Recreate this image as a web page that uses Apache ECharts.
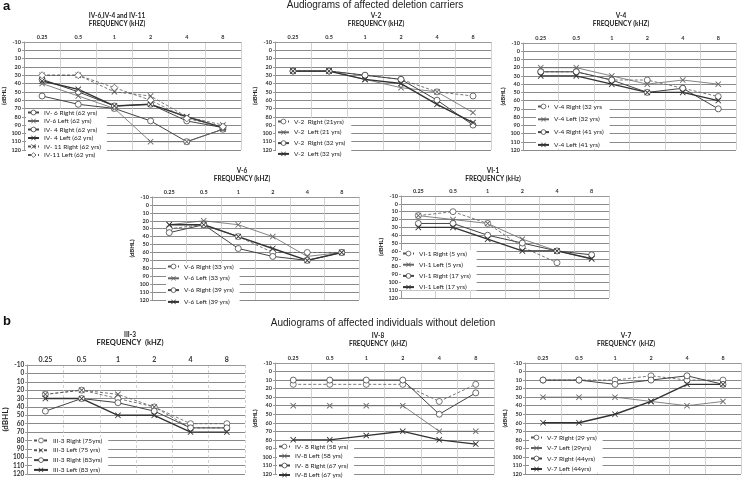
<!DOCTYPE html>
<html>
<head>
<meta charset="utf-8">
<title>Audiograms</title>
<script src="https://cdn.jsdelivr.net/npm/echarts@6/dist/echarts.min.js"></script>
<style>
    html, body { margin: 0; padding: 0; background: #fff; }
    #chart { width: 743px; height: 480px; }
</style>
</head>
<body>
<div id="chart"></div>
<script>
const freqLabels = ['0.25', '0.5', '1', '2', '4', '8'];

// a: deletion carriers (dB HL per frequency)
const iv6Right = [55, 65, 70, 85, 110, 95];
const iv6Left = [40, 55, 70, 110, 110, 95];
const iv4Right = [35, 50, 67, 65, 85, 93];
const iv4Left = [37, 47, 67, 65, 80, 93];
const iv11Right = [30, 30, 50, 55, 80, 90];
const iv11Left = [30, 30, 45, 60, 82, 92];

const v2Right21 = [25, 25, 30, 35, 50, 55];
const v2Left21 = [25, 25, 35, 45, 50, 75];
const v2Right32 = [25, 25, 30, 35, 60, 90];
const v2Left32 = [25, 25, 35, 40, 65, 87];

const v4Right32 = [25, 25, 35, 35, 45, 55];
const v4Left32 = [20, 20, 30, 40, 35, 40];
const v4Right41 = [25, 25, 35, 50, 45, 70];
const v4Left41 = [30, 30, 40, 50, 50, 60];

const v6Right33 = [30, 25, 40, 60, 60, 60];
const v6Left33 = [25, 20, 25, 40, 65, 60];
const v6Right39 = [35, 25, 55, 65, 70, 60];
const v6Left39 = [25, 25, 40, 55, 70, 60];

const vi1Right5 = [15, 10, 25, 55, 75, null];
const vi1Left5 = [15, 20, 25, 45, 60, 70];
const vi1Right17 = [25, 25, 40, 50, 60, 65];
const vi1Left17 = [30, 30, 45, 60, 60, 70];

// b: individuals without deletion
const iii3Right75 = [25, 20, 30, 40, 60, 60];
const iii3Left75 = [25, 20, 25, 40, 65, 65];
const iii3Right83 = [45, 30, 35, 45, 65, 65];
const iii3Left83 = [30, 30, 50, 50, 70, 70];

const iv8Right58 = [15, 15, 15, 15, 35, 15];
const iv8Left58 = [40, 40, 40, 40, 70, 70];
const iv8Right67 = [10, 10, 10, 10, 50, 25];
const iv8Left67 = [80, 80, 75, 70, 80, 85];

const v7Right29 = [10, 10, 10, 5, 10, 10];
const v7Left29 = [30, 30, 30, 35, 40, 35];
const v7Right44 = [10, 10, 15, 10, 5, 15];
const v7Left44 = [60, 60, 50, 35, 15, 15];

const X_PATH = 'path://M1,0L5,4L9,0L10,1L6,5L10,9L9,10L5,6L1,10L0,9L4,5L0,1Z';
const FONT = 'Lato, "Liberation Sans", sans-serif';

// open markers are drawn as white shapes with a thin outline
const styles = {
    circleThin: { symbol: 'circle', size: 6, type: [3, 2], width: 0.8, color: '#555', open: true },
    crossThin: { symbol: X_PATH, size: 6, type: [3, 2], width: 0.8, color: '#555' },
    diamondThin: { symbol: 'diamond', size: 7, type: [3, 2], width: 0.8, color: '#555', open: true },
    circle: { symbol: 'circle', size: 6, type: 'solid', width: 1, color: '#444', open: true },
    cross: { symbol: X_PATH, size: 6, type: 'solid', width: 1.4, color: '#333' },
    crossLight: { symbol: X_PATH, size: 6, type: 'solid', width: 0.8, color: '#666' },
};

const panels = [
    {
        title: 'IV-6,IV-4 and IV-11', freqName: 'FREQUENCY (kHZ)', titleX: 117, titleY: 12,
        grid: { left: 24, top: 42, width: 217, height: 108 },
        legend: { left: 26, top: 109, itemGap: 1.5 },
        lines: [
            ['IV- 6 Right (62 yrs)', iv6Right, 'circle'],
            ['IV-6 Left (62 yrs)', iv6Left, 'crossLight'],
            ['IV- 4 Right (62 yrs)', iv4Right, 'circle'],
            ['IV- 4 Left (62 yrs)', iv4Left, 'cross'],
            ['IV- 11 Right (62 yrs)', iv11Right, 'crossThin'],
            ['IV-11 Left (62 yrs)', iv11Left, 'diamondThin'],
        ],
    },
    {
        title: 'V-2', freqName: 'FREQUENCY (kHZ)', titleX: 376, titleY: 12,
        grid: { left: 275, top: 42, width: 216, height: 108 },
        legend: { left: 276, top: 118, itemGap: 3.8 },
        lines: [
            ['V-2  Right (21yrs)', v2Right21, 'circleThin'],
            ['V-2  Left (21 yrs)', v2Left21, 'crossLight'],
            ['V-2  Right (32 yrs)', v2Right32, 'circle'],
            ['V-2  Left (32 yrs)', v2Left32, 'cross'],
        ],
    },
    {
        title: 'V-4', freqName: 'FREQUENCY (kHZ)', titleX: 621, titleY: 12,
        grid: { left: 523, top: 43, width: 213, height: 107 },
        legend: { left: 536, top: 103, itemGap: 5.8 },
        lines: [
            ['V-4 Right (32 yrs', v4Right32, 'circleThin'],
            ['V-4 Left (32 yrs)', v4Left32, 'crossLight'],
            ['V-4 Right (41 yrs)', v4Right41, 'circle'],
            ['V-4 Left (41 yrs)', v4Left41, 'cross'],
        ],
    },
    {
        title: 'V-6', freqName: 'FREQUENCY (kHZ)', titleX: 242, titleY: 167,
        grid: { left: 152, top: 197, width: 207, height: 103 },
        legend: { left: 166, top: 263, itemGap: 4.8 },
        lines: [
            ['V-6 Right (33 yrs)', v6Right33, 'circleThin'],
            ['V-6 Left (33 yrs)', v6Left33, 'crossLight'],
            ['V-6 Right (39 yrs)', v6Right39, 'circle'],
            ['V-6 Left (39 yrs)', v6Left39, 'cross'],
        ],
    },
    {
        title: 'VI-1', freqName: 'FREQUENCY (kHz)', titleX: 493, titleY: 167,
        grid: { left: 401, top: 196, width: 208, height: 102 },
        legend: { left: 401, top: 250, itemGap: 4.2 },
        lines: [
            ['VI-1 Right (5 yrs)', vi1Right5, 'circleThin'],
            ['VI-1 Left (5 yrs)', vi1Left5, 'crossLight'],
            ['VI-1 Right (17 yrs)', vi1Right17, 'circle'],
            ['VI-1 Left (17 yrs)', vi1Left17, 'cross'],
        ],
    },
    {
        title: 'III-3', freqName: 'FREQUENCY  (kHZ)', titleX: 130, titleY: 331, big: true,
        grid: { left: 24, top: 365, width: 221, height: 109 },
        legend: { left: 32, top: 437, itemGap: 2.8 },
        lines: [
            ['III-3 Right (75yrs)', iii3Right75, 'circleThin'],
            ['III-3 Left (75 yrs)', iii3Left75, 'crossThin'],
            ['III-3 Right (83yrs)', iii3Right83, 'circle'],
            ['III-3 Left (83 yrs)', iii3Left83, 'cross'],
        ],
    },
    {
        title: 'IV-8', freqName: 'FREQUENCY  (kHZ)', titleX: 378, titleY: 332,
        grid: { left: 275, top: 363, width: 219, height: 111 },
        legend: { left: 277, top: 443, itemGap: 2.5 },
        lines: [
            ['IV- 8 Right (58 yrs)', iv8Right58, 'circleThin'],
            ['IV-8 Left (58 yrs)', iv8Left58, 'crossLight'],
            ['IV- 8 Right (67 yrs)', iv8Right67, 'circle'],
            ['IV-8 Left (67 yrs)', iv8Left67, 'cross'],
        ],
    },
    {
        title: 'V-7', freqName: 'FREQUENCY  (kHZ)', titleX: 626, titleY: 332,
        grid: { left: 525, top: 363, width: 216, height: 111 },
        legend: { left: 529, top: 434, itemGap: 3.5 },
        lines: [
            ['V-7 Right (29 yrs)', v7Right29, 'circleThin'],
            ['V-7 Left (29yrs)', v7Left29, 'crossLight'],
            ['V-7 Right (44yrs)', v7Right44, 'circle'],
            ['V-7 Left (44yrs)', v7Left44, 'cross'],
        ],
    },
];

const chart = echarts.init(document.getElementById('chart'), null, { renderer: 'canvas' });

const titles = [
    { text: 'a', left: 3, top: 0, padding: 0, textStyle: { fontSize: 13, fontWeight: 'bold', color: '#111', fontFamily: 'Liberation Sans' } },
    { text: 'b', left: 3, top: 315, padding: 0, textStyle: { fontSize: 13, fontWeight: 'bold', color: '#111', fontFamily: 'Liberation Sans' } },
    { text: 'Audiograms of affected deletion carriers', left: 375, top: 0, textAlign: 'center', padding: 0,
        textStyle: { fontSize: 10, fontWeight: 'normal', color: '#222', fontFamily: 'Liberation Sans' } },
    { text: 'Audiograms of affected individuals without deletion', left: 383, top: 318, textAlign: 'center', padding: 0,
        textStyle: { fontSize: 10, fontWeight: 'normal', color: '#222', fontFamily: 'Liberation Sans' } },
];
panels.forEach(p => {
    titles.push({
        text: p.title,
        subtext: p.freqName,
        left: p.titleX,
        top: p.titleY,
        textAlign: 'center',
        padding: 0,
        itemGap: 1,
        textStyle: { fontSize: 6.5, fontWeight: 'bold', color: '#222', fontFamily: FONT },
        subtextStyle: { fontSize: p.big ? 7.5 : 6.5, fontWeight: 'bold', color: '#222', fontFamily: FONT },
    });
});

const series = [];
panels.forEach((p, i) => {
    p.lines.forEach(([name, data, kind]) => {
        const s = styles[kind];
        series.push({
            type: 'line',
            name: name,
            data: data,
            xAxisIndex: i,
            yAxisIndex: i,
            symbol: s.symbol,
            symbolSize: s.size,
            lineStyle: { color: s.color, width: s.width, type: s.type },
            itemStyle: s.open
                ? { color: '#fff', borderColor: s.color, borderWidth: 0.8 }
                : { color: s.color, borderWidth: 0 },
            silent: true,
        });
    });
});

const option = {
    animation: false,
    backgroundColor: '#fff',
    title: titles,
    grid: panels.map(p => Object.assign({ containLabel: false }, p.grid)),
    xAxis: panels.map((p, i) => ({
        type: 'category',
        gridIndex: i,
        position: 'top',
        data: freqLabels,
        boundaryGap: true,
        axisLine: { onZero: false, lineStyle: { color: '#999', width: 1 } },
        axisTick: { show: false },
        axisLabel: {
            interval: 0, margin: 2,
            fontSize: p.big ? 7 : 5.5, color: '#333', fontWeight: 'bold', fontFamily: FONT,
        },
        splitLine: {
            show: true, interval: 0,
            lineStyle: { color: '#c8c8c8', width: 0.8, type: p.big ? [3, 2] : 'solid' },
        },
    })),
    yAxis: panels.map((p, i) => ({
        type: 'value',
        gridIndex: i,
        inverse: true,
        min: -10,
        max: 120,
        interval: 10,
        name: '(dBHL)',
        nameLocation: 'middle',
        nameGap: p.big ? 14 : 12,
        nameTextStyle: { fontSize: p.big ? 8 : 6, fontWeight: 'bold', color: '#222', fontFamily: FONT },
        axisLine: { show: true, lineStyle: { color: '#999' } },
        axisTick: { show: true, length: 2, lineStyle: { color: '#999' } },
        axisLabel: {
            margin: 3,
            fontSize: p.big ? 6.5 : 5.5, color: '#333', fontWeight: 'bold', fontFamily: FONT,
        },
        splitLine: { show: true, lineStyle: { color: '#8a8a8a', width: 1 } },
    })),
    legend: panels.map(p => ({
        data: p.lines.map(l => l[0]),
        orient: 'vertical',
        left: p.legend.left,
        top: p.legend.top,
        itemGap: p.legend.itemGap,
        itemWidth: p.big ? 14 : 11,
        itemHeight: 6,
        padding: [0, 6, 0, 1],
        backgroundColor: '#fff',
        selectedMode: false,
        itemStyle: { borderWidth: 0.8 },
        textStyle: { fontSize: 6.5, color: '#222', fontFamily: FONT, padding: 0 },
    })),
    series: series,
};

chart.setOption(option);
</script>
</body>
</html>
